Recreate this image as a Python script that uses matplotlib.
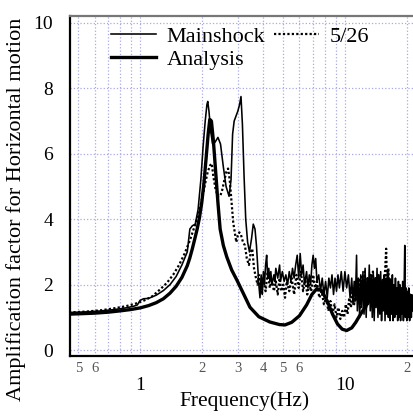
import numpy as np
import matplotlib
matplotlib.use('Agg')
import matplotlib.pyplot as plt
from matplotlib.ticker import FixedLocator, FixedFormatter

plt.rcParams['font.family'] = ['Liberation Serif', 'DejaVu Serif']

# Analysis (smooth transfer function)
f_an = [0.45, 0.5, 0.6, 0.7, 0.8, 0.9, 1.0, 1.1, 1.2, 1.3, 1.4, 1.5, 1.6, 1.7, 1.75, 1.8, 1.85,
        1.9, 1.95, 2.0, 2.05, 2.1, 2.15, 2.19, 2.23, 2.28, 2.33, 2.4, 2.46, 2.55, 2.65, 2.8,
        2.97, 3.2, 3.44, 3.8, 4.3, 4.8, 5.1, 5.5, 6.0, 6.5, 6.9, 7.3, 7.7, 8.2, 8.7, 9.2, 9.7,
        10.2, 10.8, 11.3, 11.8, 12.5, 13.3, 14.2, 15.2, 16.5, 18.0, 19.5, 21.5]
a_an = [1.10, 1.11, 1.13, 1.16, 1.20, 1.24, 1.29, 1.36, 1.45, 1.57, 1.74, 1.95, 2.22, 2.58, 2.82,
        3.10, 3.40, 3.70, 4.05, 4.50, 5.10, 5.85, 6.60, 7.05, 7.0, 6.4, 5.6, 4.5, 3.7, 3.2, 2.85,
        2.45, 2.14, 1.72, 1.31, 1.02, 0.86, 0.78, 0.77, 0.85, 1.05, 1.38, 1.70, 1.88, 1.82, 1.5,
        1.1, 0.8, 0.64, 0.6, 0.68, 0.85, 1.05, 1.3, 1.55, 1.72, 1.82, 1.85, 1.8, 1.72, 1.65]

# Mainshock (observed): peak part, then the jagged part above 3.8 Hz
f_ms_low = [0.45, 0.55, 0.65, 0.75, 0.85, 0.93, 0.97, 1.0, 1.04, 1.1, 1.2, 1.3, 1.4, 1.5, 1.6,
            1.7, 1.75, 1.8, 1.86, 1.92, 1.98, 2.03, 2.08, 2.12, 2.14, 2.17, 2.21, 2.26, 2.32, 2.4,
            2.47, 2.55, 2.63, 2.72, 2.78, 2.83, 2.88, 2.94, 3.0, 3.06, 3.11, 3.16, 3.22, 3.28,
            3.35, 3.42, 3.5, 3.57, 3.64, 3.7, 3.76]
a_ms_low = [1.15, 1.17, 1.2, 1.24, 1.29, 1.34, 1.38, 1.52, 1.57, 1.58, 1.68, 1.82, 2.0, 2.25,
            2.6, 3.0, 3.7, 3.8, 3.85, 4.3, 5.2, 6.2, 7.0, 7.5, 7.6, 7.3, 6.7, 6.3, 6.35, 6.5, 6.3,
            5.6, 5.0, 4.7, 5.2, 6.6, 7.0, 7.15, 7.3, 7.5, 7.75, 6.9, 5.3, 4.0, 3.3, 3.0, 3.4,
            3.85, 3.7, 3.2, 2.5]
f_ms_mid = [3.8, 3.85, 3.9, 3.95, 4.0, 4.05, 4.1, 4.15, 4.2, 4.25, 4.3, 4.35, 4.4, 4.5, 4.55,
            4.6, 4.7, 4.8, 4.85, 4.95, 5.05, 5.15, 5.25, 5.35, 5.45, 5.55, 5.65, 5.75, 5.85,
            5.95, 6.05, 6.15, 6.25, 6.35, 6.5, 6.6, 6.7, 6.8, 6.9, 7.0, 7.1, 7.2, 7.3, 7.45, 7.6,
            7.75, 7.9, 8.05, 8.2, 8.35, 8.5, 8.65, 8.8, 8.95, 9.1, 9.25, 9.4, 9.6, 9.8, 10.0,
            10.2, 10.4, 10.6]
a_ms_mid = [2.0, 1.6, 2.3, 1.7, 2.4, 2.0, 2.6, 2.9, 2.2, 2.5, 2.1, 2.4, 2.0, 2.3, 2.1, 2.5,
            2.2, 2.6, 2.1, 2.4, 2.1, 2.3, 2.0, 2.4, 2.1, 2.5, 2.2, 2.6, 2.9, 2.2, 2.95, 2.3, 2.6,
            2.0, 2.4, 1.9, 2.3, 2.0, 2.6, 2.9, 2.5, 2.8, 2.1, 2.3, 1.8, 2.2, 1.7, 2.1, 1.6, 2.2,
            1.9, 2.3, 1.7, 2.2, 1.8, 2.3, 1.9, 2.4, 1.8, 2.4, 1.9, 2.3, 1.6]
f_ms_high = [10.8, 10.95, 11.1, 11.25, 11.4, 11.5, 11.65, 11.8, 11.95, 12.1, 12.25, 12.4, 12.55,
             12.7, 12.85, 13.0, 13.15, 13.3, 13.45, 13.6, 13.75, 13.9, 14.05, 14.2, 14.35, 14.5,
             14.65, 14.8, 14.95, 15.1, 15.25, 15.4, 15.55, 15.7, 15.85, 16.0, 16.15, 16.3,
             16.45, 16.6, 16.75, 16.9, 17.05, 17.2, 17.35, 17.5, 17.65, 17.8, 17.95, 18.1,
             18.25, 18.4, 18.55, 18.7, 18.85, 19.0, 19.15, 19.3, 19.45, 19.6, 19.75, 19.9,
             20.05, 20.2, 20.35, 20.5, 20.7, 20.9, 21.1, 21.3, 21.5]
a_ms_high = [2.2, 1.4, 2.1, 1.5, 2.9, 1.2, 2.2, 1.0, 2.3, 1.3, 2.4, 1.1, 2.5, 1.0, 2.2, 1.4, 2.6,
             1.2, 2.3, 1.0, 2.4, 0.9, 2.2, 1.3, 2.5, 1.0, 2.3, 1.1, 2.4, 0.9, 2.1, 1.2, 2.3, 0.9,
             2.2, 1.1, 2.4, 1.0, 2.2, 0.9, 2.1, 1.1, 2.3, 0.9, 2.0, 1.0, 2.2, 1.1, 1.9, 0.9, 2.1,
             1.0, 2.0, 0.9, 1.9, 1.1, 2.1, 0.9, 1.8, 3.2, 1.0, 1.9, 0.9, 1.8, 1.0, 1.9, 0.9, 1.7,
             1.0, 1.6, 1.2]

# 5/26 aftershock (observed)
f_526_low = [0.45, 0.55, 0.65, 0.75, 0.85, 0.95, 1.05, 1.15, 1.25, 1.35, 1.45, 1.55, 1.65,
             1.75, 1.85, 1.95, 2.02, 2.08, 2.14, 2.2, 2.24, 2.28, 2.34, 2.4, 2.46, 2.52, 2.58,
             2.64, 2.69, 2.74, 2.8, 2.85, 2.9, 2.95, 3.0, 3.05, 3.1, 3.18, 3.25, 3.32, 3.4, 3.47,
             3.53, 3.6, 3.68, 3.75]
a_526_low = [1.15, 1.18, 1.22, 1.28, 1.34, 1.42, 1.52, 1.65, 1.85, 2.05, 2.3, 2.6, 2.95, 3.35,
             3.8, 4.3, 4.7, 5.1, 5.45, 5.65, 5.7, 5.3, 4.9, 4.7, 4.7, 4.9, 5.2, 5.45, 5.55, 5.2,
             4.5, 3.9, 3.6, 3.3, 3.5, 3.6, 3.55, 3.3, 3.2, 2.8, 2.6, 3.0, 3.1, 2.5, 2.2, 2.0]
f_526_mid = [3.8, 3.9, 4.0, 4.1, 4.2, 4.3, 4.4, 4.5, 4.6, 4.7, 4.8, 4.9, 5.0, 5.1, 5.2, 5.35,
             5.5, 5.65, 5.8, 5.95, 6.1, 6.25, 6.4, 6.55, 6.7, 6.85, 7.0, 7.15, 7.3, 7.5, 7.7,
             7.9, 8.1, 8.3, 8.5, 8.7, 8.9, 9.1, 9.3, 9.5, 9.7, 9.9, 10.1, 10.3, 10.5, 10.7]
a_526_mid = [2.3, 1.7, 2.2, 1.8, 2.4, 1.9, 2.2, 1.8, 2.1, 1.7, 2.2, 1.8, 2.0, 1.6, 2.1, 1.8,
             2.2, 1.7, 2.3, 1.9, 2.4, 1.8, 2.2, 1.7, 2.0, 1.8, 2.3, 1.9, 2.1, 1.6, 1.8, 1.4, 1.6,
             1.2, 1.5, 1.1, 1.4, 1.0, 1.3, 0.95, 1.2, 1.0, 1.4, 1.1, 1.6, 1.3]
f_526_high = [10.9, 11.1, 11.3, 11.5, 11.7, 11.9, 12.1, 12.3, 12.5, 12.7, 12.9, 13.1, 13.3,
              13.5, 13.7, 13.9, 14.1, 14.3, 14.5, 14.7, 14.9, 15.1, 15.3, 15.5, 15.7, 15.9,
              16.1, 16.3, 16.5, 16.7, 16.9, 17.1, 17.3, 17.5, 17.7, 17.9, 18.1, 18.3, 18.5,
              18.7, 18.9, 19.1, 19.3, 19.5, 19.7, 19.9, 20.2, 20.5, 20.8, 21.1, 21.5]
a_526_high = [1.9, 1.4, 2.1, 1.5, 2.2, 1.3, 2.3, 1.5, 2.4, 1.3, 2.2, 1.5, 2.3, 1.4, 2.4, 1.6,
              2.2, 1.4, 2.3, 1.5, 2.1, 1.3, 2.2, 1.4, 2.4, 3.1, 1.6, 2.5, 1.4, 2.2, 1.5, 2.0,
              1.3, 1.9, 1.2, 1.8, 1.1, 1.7, 1.2, 1.6, 1.1, 1.5, 1.2, 1.7, 1.1, 1.6, 1.2, 1.5,
              1.1, 1.4, 1.2]

x_major = [1, 10]
x_major_labels = ['1', '10']
x_minor = [0.5, 0.6, 0.7, 0.8, 0.9, 2, 3, 4, 5, 6, 7, 8, 9, 20]
x_minor_labels = ['5', '6', '', '', '', '2', '3', '4', '5', '6', '', '', '', '2']
y_ticks = [0, 2, 4, 6, 8, 10]

f_ms = f_ms_low + f_ms_mid + f_ms_high
a_ms = a_ms_low + a_ms_mid + a_ms_high
f_526 = f_526_low + f_526_mid + f_526_high
a_526 = a_526_low + a_526_mid + a_526_high

fig = plt.figure(figsize=(4.13, 4.16), dpi=100)
ax = fig.add_axes([0.1695, 0.1442, 0.8305, 0.8173])

ax.plot(f_ms, a_ms, color='black', lw=1.15, label='Mainshock')
ax.plot(f_an, a_an, color='black', lw=2.4, label='Analysis')
ax.plot(f_526, a_526, color='black', lw=1.6, linestyle=(0, (1, 1)), label='5/26')

ax.set_xscale('log')
ax.set_xlim(0.455, 21.5)
ax.set_ylim(-0.18, 10.21)

ax.xaxis.set_major_locator(FixedLocator(x_major))
ax.xaxis.set_major_formatter(FixedFormatter(x_major_labels))
ax.xaxis.set_minor_locator(FixedLocator(x_minor))
ax.xaxis.set_minor_formatter(FixedFormatter(x_minor_labels))
ax.set_yticks(y_ticks)

ax.tick_params(axis='x', which='major', labelsize=14, pad=15, length=0)
ax.tick_params(axis='x', which='minor', labelsize=10.5, pad=4, length=0, colors='#555555')
ax.tick_params(axis='y', labelsize=14, pad=12, length=0)

ax.grid(True, which='both', axis='x', color='#a9a9e6', linestyle=':', lw=0.9)
ax.grid(True, which='major', axis='y', color='#a9a9e6', linestyle=':', lw=0.9)

for s in ['left', 'bottom']:
    ax.spines[s].set_linewidth(1.6)
ax.spines['top'].set_color('#777777')
ax.spines['top'].set_linewidth(1.6)
ax.spines['right'].set_visible(False)

ax.set_xlabel('Frequency(Hz)', fontsize=15.5)
ax.xaxis.set_label_coords(0.51, -0.105)
ax.set_ylabel('Amplification factor for Horizontal motion', fontsize=16)
ax.yaxis.set_label_coords(-0.128, 0.432)

ax.legend(loc='upper left', bbox_to_anchor=(0.12, 0.97), ncol=2, frameon=False,
          fontsize=16, handlelength=2.0, handletextpad=0.5, columnspacing=0.4,
          labelspacing=0.1, borderpad=0, borderaxespad=0)

fig.savefig('out.png', dpi=100)
